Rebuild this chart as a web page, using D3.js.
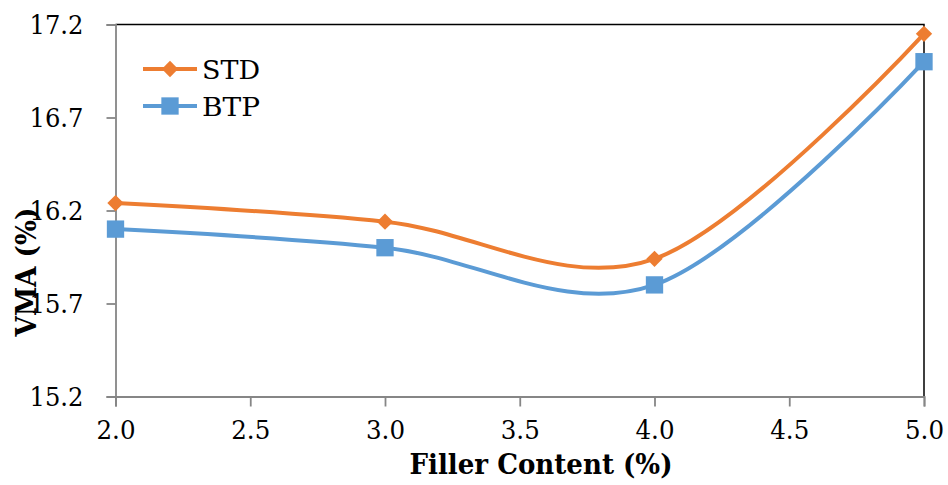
<!DOCTYPE html>
<html><head><meta charset="utf-8">
<script src="https://cdn.jsdelivr.net/npm/d3@7"></script>
<style>body{margin:0;background:#fff}svg{display:block}</style>
</head><body><svg id="c" width="948" height="485"></svg>
<script>
const fillerContent = [2.0, 3.0, 4.0, 5.0];
const stdValues = [16.24, 16.14, 15.94, 17.15];
const btpValues = [16.10, 16.00, 15.80, 17.00];
const xTicks = [2.0, 2.5, 3.0, 3.5, 4.0, 4.5, 5.0];
const yTicks = [15.2, 15.7, 16.2, 16.7, 17.2];
const seriesNames = ["STD", "BTP"];

const svg = d3.select("#c");
const L = 115.5, R = 924, T = 24.5, B = 396.5;
const x = d3.scaleLinear().domain([2, 5]).range([L, R]);
const y = d3.scaleLinear().domain([15.2, 17.2]).range([B, T]);
const font = "DejaVu Serif";
const axisGray = "#868686";

// top & right border
svg.append("path").attr("d", `M${L},${T}H${R}V${B}`).attr("fill","none").attr("stroke","#000").attr("stroke-width",1.5);

// y axis
const ya = svg.append("g").attr("transform", `translate(${L},0)`)
  .call(d3.axisLeft(y).tickValues(yTicks).tickFormat(d3.format(".1f")).tickSizeOuter(0).tickSize(9).tickPadding(23));
ya.attr("font-family", font).attr("font-size", 26);
ya.select(".domain").attr("stroke", axisGray).attr("stroke-width", 1.8);
ya.selectAll(".tick line").attr("stroke", axisGray).attr("stroke-width", 1.8);
ya.selectAll(".tick text").attr("fill", "#000").attr("dy","0.35em")
  .attr("textLength", 54).attr("lengthAdjust","spacingAndGlyphs");

// x axis
const xa = svg.append("g").attr("transform", `translate(0,${B})`)
  .call(d3.axisBottom(x).tickValues(xTicks).tickFormat(d3.format(".1f")).tickSizeOuter(0).tickSize(10).tickPadding(14));
xa.attr("font-family", font).attr("font-size", 26);
xa.select(".domain").attr("stroke", axisGray).attr("stroke-width", 1.8);
xa.selectAll(".tick line").attr("stroke", axisGray).attr("stroke-width", 1.8);
xa.selectAll(".tick text").attr("fill", "#000")
  .attr("textLength", 39).attr("lengthAdjust","spacingAndGlyphs");

// axis titles
svg.append("text").attr("x", 541).attr("y", 474).attr("text-anchor","middle")
  .attr("font-family", font).attr("font-weight","bold").attr("font-size", 27)
  .attr("textLength", 263).attr("lengthAdjust","spacingAndGlyphs")
  .text("Filler Content (%)");
svg.append("text").attr("transform","translate(36,272) rotate(-90)").attr("text-anchor","middle")
  .attr("font-family", font).attr("font-weight","bold").attr("font-size", 27)
  .attr("textLength", 129).attr("lengthAdjust","spacingAndGlyphs")
  .text("VMA (%)");

const colors = ["#ED7D31", "#5B9BD5"];
const data = [stdValues, btpValues];
const line = d3.line().x((d,i)=>x(fillerContent[i])).y(d=>y(d)).curve(d3.curveCardinal.tension(0));

data.forEach((vals, s) => {
  svg.append("path").attr("d", line(vals)).attr("fill","none").attr("stroke", colors[s]).attr("stroke-width", 4);
});
const sym = [d3.symbol().type(d3.symbolDiamond2).size(170), d3.symbol().type(d3.symbolSquare).size(300)];
data.forEach((vals, s) => {
  svg.append("g").selectAll("path").data(vals).join("path")
    .attr("transform",(d,i)=>`translate(${x(fillerContent[i])},${y(d)})`)
    .attr("d", sym[s]()).attr("fill", colors[s]);
});

// legend
const ly = [69, 106];
const lw = [58, 58];
seriesNames.forEach((n, s) => {
  svg.append("line").attr("x1",143).attr("x2",197).attr("y1",ly[s]).attr("y2",ly[s]).attr("stroke",colors[s]).attr("stroke-width",4);
  svg.append("path").attr("transform",`translate(170,${ly[s]})`).attr("d", sym[s]()).attr("fill", colors[s]);
  svg.append("text").attr("x",202).attr("y",ly[s]+10).attr("font-family",font).attr("font-size",26)
    .attr("textLength", lw[s]).attr("lengthAdjust","spacingAndGlyphs").text(n);
});
</script></body></html>
